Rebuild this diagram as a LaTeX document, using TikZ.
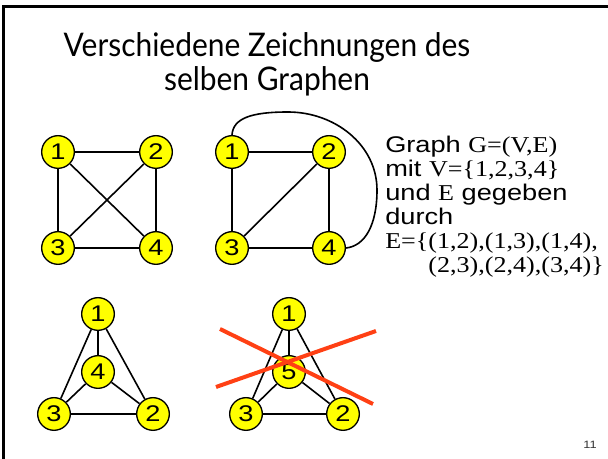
\documentclass[tikz,border=0pt]{standalone}
\usepackage{fontspec}
\setmainfont{Liberation Sans}[FakeStretch=1.2]
\newfontfamily\titlefont{Lato}[FakeStretch=0.92]
\newfontfamily\timesfont{Liberation Serif}[FakeStretch=1.15]
\usetikzlibrary{calc}

\definecolor{vtxyellow}{RGB}{255,255,0}
\definecolor{crossred}{RGB}{255,64,20}

\begin{document}
\begin{tikzpicture}[
    x=0.75pt, y=-0.75pt,
    % one unit = one pixel of the slide, y going down
    vtx/.style={circle, draw=black, line width=1pt, fill=vtxyellow, minimum size=24.5pt, inner sep=0pt, font=\fontsize{17}{20}\selectfont},
    edge/.style={line width=1.2pt},
    strike/.style={line width=3pt, draw=crossred},
    txt/.style={anchor=base west, inner sep=0pt, font=\fontsize{17}{20}\selectfont},
    ttl/.style={align=center, anchor=base, inner sep=0pt, font=\titlefont\fontsize{24.4}{25.5}\selectfont}
]
    \useasboundingbox (0,0) rectangle (608,459);

    % --- Slide frame ---
    \draw[line width=2pt] (3.5,459) -- (3.5,6.5) -- (608,6.5);

    % --- Title (anchored on the baseline of its last line) ---
    \node[ttl] (title) at (267,91) {Verschiedene Zeichnungen des\\selben Graphen};

    % --- Drawing 1: square with both diagonals ---
    \foreach \n/\x/\y in {1/58/152, 2/156/152, 3/58/248, 4/156/248}
        \node[vtx] (a\n) at (\x,\y) {\n};
    \foreach \u/\v in {1/2, 1/3, 1/4, 2/3, 2/4, 3/4}
        \draw[edge] (a\u) -- (a\v);

    % --- Drawing 2: one diagonal, edge (1,4) routed outside ---
    \foreach \n/\x/\y in {1/232/152, 2/329/152, 3/232/248, 4/329/248}
        \node[vtx] (b\n) at (\x,\y) {\n};
    \foreach \u/\v in {1/2, 1/3, 2/3, 2/4, 3/4}
        \draw[edge] (b\u) -- (b\v);
    \coordinate (arctop) at (288,112);
    \coordinate (arcright) at (377,190);
    \draw[edge] (b1.north) .. controls (233,118) and (252,112) .. (arctop)
        .. controls (335,112) and (377,145) .. (arcright)
        .. controls (377,225) and (365,246) .. (b4.east);

    % --- Definition of the graph ---
    \node[txt] (t1) at (385,153) {Graph {\timesfont G=(V,E)}};
    \node[txt] (t2) at (385,177) {mit {\timesfont V=\{1,2,3,4\}}};
    \node[txt] (t3) at (385,201) {und {\timesfont E} gegeben};
    \node[txt] (t4) at (385,225) {durch};
    \node[txt] (t5) at (385,249) {\timesfont E=\{(1,2),(1,3),(1,4),};
    \node[txt] (t6) at (385,273) {\timesfont\phantom{E=\{}(2,3),(2,4),(3,4)\}};

    % --- Drawing 3: triangle with inner vertex ---
    \foreach \n/\x/\y in {1/98/314, 4/98/372, 3/54/414, 2/153/414}
        \node[vtx] (c\n) at (\x,\y) {\n};
    \foreach \u/\v in {1/4, 1/3, 1/2, 4/3, 4/2, 3/2}
        \draw[edge] (c\u) -- (c\v);

    % --- Drawing 4: same shape with a vertex 5, crossed out ---
    \foreach \n/\x/\y in {1/289/314, 5/289/372, 3/246/414, 2/343/414}
        \node[vtx] (d\n) at (\x,\y) {\n};
    \foreach \u/\v in {1/5, 1/3, 1/2, 5/3, 5/2, 3/2}
        \draw[edge] (d\u) -- (d\v);
    \coordinate (s1) at (220,329);
    \coordinate (s2) at (373,404);
    \coordinate (s3) at (216,387);
    \coordinate (s4) at (376,331);
    \draw[strike] (s1) -- (s2);
    \draw[strike] (s3) -- (s4);

    % --- Page number ---
    \node[anchor=base east, inner sep=0pt, text=black!80, font=\fontsize{8}{9}\selectfont] (page) at (597,449) {11};
\end{tikzpicture}
\end{document}
